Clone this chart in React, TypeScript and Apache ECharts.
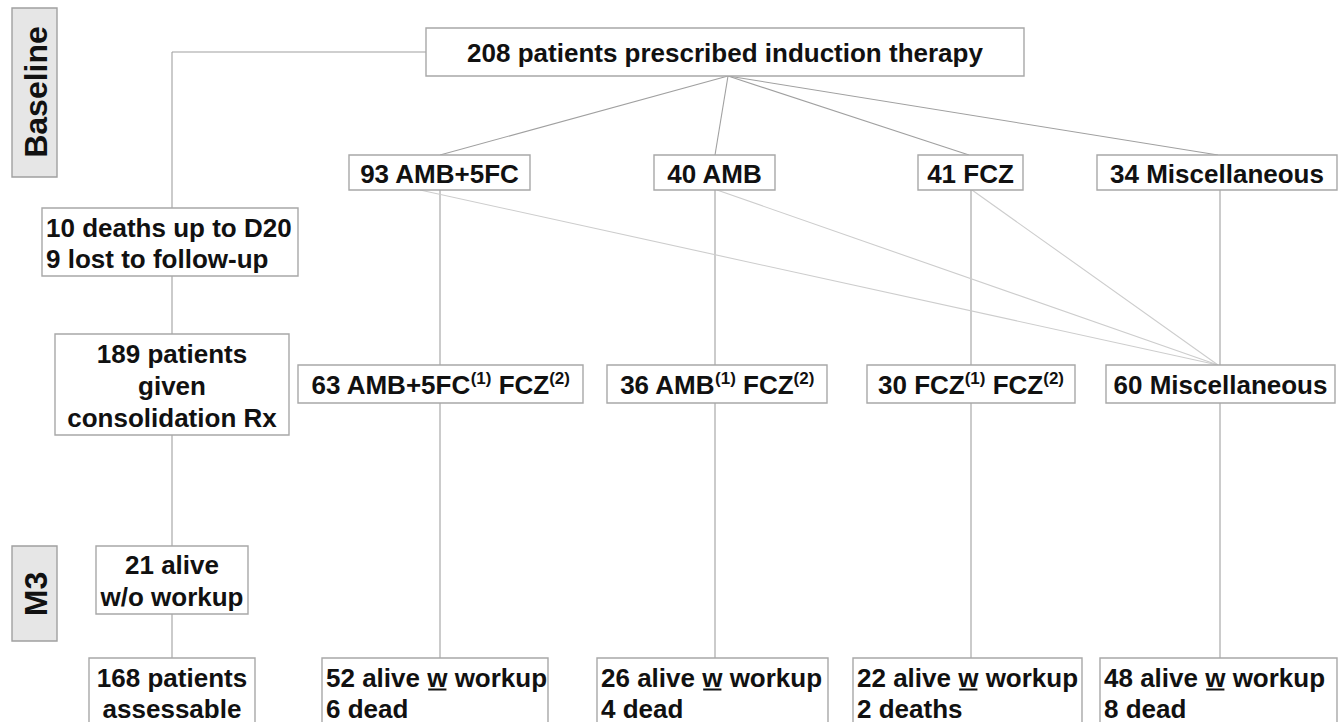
import React, { useEffect, useRef } from 'react';
import * as echarts from 'echarts';

// ---- data (labels of the flow diagram) ----
const stageLabels = ['Baseline', 'M3'];
const rootLabel = '208 patients prescribed induction therapy';
const inductionArms = ['93 AMB+5FC', '40 AMB', '41 FCZ', '34 Miscellaneous'];
const consolidationMain = ['63 AMB+5FC', '36 AMB', '30 FCZ', '60 Miscellaneous'];
const consolidationSecond = ['FCZ', 'FCZ', 'FCZ', ''];
const attritionLines = ['10 deaths up to D20', '9 lost to follow-up'];
const consolidationTotal = ['189 patients', 'given', 'consolidation Rx'];
const aliveNoWorkup = ['21 alive', 'w/o workup'];
const assessable = ['168 patients', 'assessable'];
const aliveWithWorkup = [52, 26, 22, 48];
const deathLabels = ['6 dead', '4 dead', '2 deaths', '8 dead'];

// ---- layout ----
const FAM = '"Liberation Sans", Arial, Helvetica, sans-serif';
const FONT = `bold 26px ${FAM}`;
const STAGE_FONT = `bold 32px ${FAM}`;
const SUP = `bold 17px ${FAM}`;
const TXT = '#111111';
const BOX = '#a8a8a8';
const LINE = '#a0a0a0';
const LIGHT = '#cdcdcd';

const stageBoxes = [
  { x: 12, y: 8, w: 45, h: 169, cy: 92 },
  { x: 12, y: 546, w: 45, h: 95, cy: 594 },
];
const rootBox = { x: 426, y: 28, w: 598, h: 48 };
const rootAnchor = { x: 728, y: 76 };
const l2Boxes = [
  { x: 349, w: 181 },
  { x: 654, w: 121 },
  { x: 918, w: 105 },
  { x: 1097, w: 240 },
];
const l2Y = 155, l2H = 35;
const l2Arrive = [440, 715, 969, 1218];
const l3Boxes = [
  { x: 298, w: 285 },
  { x: 607, w: 220 },
  { x: 867, w: 208 },
  { x: 1106, w: 229 },
];
const l3Y = 365, l3H = 38;
const colX = [440, 715, 971, 1220];
const diagStarts = [420, 717, 972];
const bottomBoxes = [
  { x: 322, w: 226 },
  { x: 597, w: 231 },
  { x: 853, w: 229 },
  { x: 1100, w: 237 },
];
const bottomY = 658, bottomH = 90;
const leftX = 172;
const attritionBox = { x: 42, y: 208, w: 256, h: 68 };
const consBox = { x: 55, y: 334, w: 234, h: 101 };
const aliveBox = { x: 96, y: 546, w: 152, h: 68 };
const assessBox = { x: 89, y: 658, w: 166, h: 90 };

function rect(x: number, y: number, w: number, h: number, fill = '#ffffff', stroke = BOX) {
  return {
    type: 'rect', silent: true,
    shape: { x, y, width: w, height: h },
    style: { fill, stroke, lineWidth: 1.4 },
  };
}
function line(x1: number, y1: number, x2: number, y2: number, stroke = LINE, lw = 1.1) {
  return {
    type: 'line', silent: true,
    shape: { x1, y1, x2, y2 },
    style: { stroke, lineWidth: lw },
  };
}
function text(t: string, x: number, y: number, align = 'center', lh = 31, vAlign = 'middle', font = FONT, extra: any = {}) {
  return {
    type: 'text', silent: true, x, y, z: 10, ...extra,
    style: {
      text: t, font, fill: TXT,
      align, textAlign: align, verticalAlign: vAlign, textVerticalAlign: vAlign,
      lineHeight: lh,
    },
  };
}

export default function App() {
  const ref = useRef<HTMLDivElement>(null);
  useEffect(() => {
    if (!ref.current) return;
    const chart = echarts.init(ref.current, undefined, { renderer: 'svg' });
    const els: any[] = [];

    // stage label boxes
    stageLabels.forEach((s, i) => {
      const b = stageBoxes[i];
      els.push(rect(b.x, b.y, b.w, b.h, '#e6e6e6', '#a0a0a0'));
      els.push(text(s, b.x + b.w / 2 + 1, b.cy, 'center', 36, 'middle', STAGE_FONT, { rotation: Math.PI / 2 }));
    });

    // left trunk
    els.push(line(leftX, 52, rootBox.x, 52));
    els.push(line(leftX, 52, leftX, attritionBox.y));
    els.push(line(leftX, attritionBox.y + attritionBox.h, leftX, consBox.y));
    els.push(line(leftX, consBox.y + consBox.h, leftX, aliveBox.y));
    els.push(line(leftX, aliveBox.y + aliveBox.h, leftX, assessBox.y));

    // root fan-out
    l2Arrive.forEach((x) => els.push(line(rootAnchor.x, rootAnchor.y, x, l2Y)));
    // verticals in columns
    colX.forEach((x) => {
      els.push(line(x, l2Y + l2H, x, l3Y));
      els.push(line(x, l3Y + l3H, x, bottomY));
    });
    // switches to miscellaneous
    diagStarts.forEach((x) => els.push(line(x, l2Y + l2H, l2Arrive[3], l3Y, LIGHT, 1.1)));

    // root box
    els.push(rect(rootBox.x, rootBox.y, rootBox.w, rootBox.h));
    els.push(text(rootLabel, rootBox.x + rootBox.w / 2, rootBox.y + rootBox.h / 2 + 1));

    // induction arms
    inductionArms.forEach((s, i) => {
      const b = l2Boxes[i];
      els.push(rect(b.x, l2Y, b.w, l2H));
      els.push(text(s, b.x + b.w / 2, l2Y + l2H / 2 + 1));
    });

    // consolidation arms (with superscripts)
    consolidationMain.forEach((s, i) => {
      const b = l3Boxes[i];
      els.push(rect(b.x, l3Y, b.w, l3H));
      const second = consolidationSecond[i];
      const rt = second
        ? `{n|${s}}{s|(1)}{n| ${second}}{s|(2)}`
        : `{n|${s}}`;
      els.push({
        type: 'text', silent: true, z: 10,
        x: b.x + b.w / 2, y: l3Y + l3H / 2 + 1,
        style: {
          text: rt, font: FONT, fill: TXT,
          align: 'center', textAlign: 'center', verticalAlign: 'middle', textVerticalAlign: 'middle',
          rich: {
            n: { font: FONT, fill: TXT, color: TXT, lineHeight: 30 },
            s: { font: SUP, fill: TXT, color: TXT, lineHeight: 17, verticalAlign: 'top' },
          },
        },
      });
    });

    // left column boxes
    els.push(rect(attritionBox.x, attritionBox.y, attritionBox.w, attritionBox.h));
    els.push(text(attritionLines.join('\n'), attritionBox.x + 4, attritionBox.y + attritionBox.h / 2 + 1, 'left', 31));
    els.push(rect(consBox.x, consBox.y, consBox.w, consBox.h));
    els.push(text(consolidationTotal.join('\n'), consBox.x + consBox.w / 2, consBox.y + consBox.h / 2 + 1, 'center', 32));
    els.push(rect(aliveBox.x, aliveBox.y, aliveBox.w, aliveBox.h));
    els.push(text(aliveNoWorkup.join('\n'), aliveBox.x + aliveBox.w / 2, aliveBox.y + aliveBox.h / 2 + 1, 'center', 32));
    els.push(rect(assessBox.x, assessBox.y, assessBox.w, assessBox.h));
    els.push(text(assessable.join('\n'), assessBox.x + assessBox.w / 2, 662, 'center', 31, 'top'));

    // bottom boxes
    const ctx = document.createElement('canvas').getContext('2d')!;
    ctx.font = FONT;
    aliveWithWorkup.forEach((n, i) => {
      const b = bottomBoxes[i];
      els.push(rect(b.x, bottomY, b.w, bottomH));
      const first = `${n} alive w workup`;
      els.push(text(first + '\n' + deathLabels[i], b.x + 4, 662, 'left', 31, 'top'));
      const pre = ctx.measureText(`${n} alive `).width;
      const ww = ctx.measureText('w').width;
      const ux = b.x + 4 + pre;
      els.push({
        type: 'line', silent: true, z: 11,
        shape: { x1: ux + 1, y1: 689.5, x2: ux + ww - 1, y2: 689.5 },
        style: { stroke: TXT, lineWidth: 2 },
      });
    });

    chart.setOption({
      animation: false,
      backgroundColor: '#ffffff',
      graphic: { elements: els },
    });
    return () => chart.dispose();
  }, []);
  return (
    <div
      ref={ref}
      style={{ position: 'absolute', left: 0, top: 0, width: 1343, height: 722, background: '#fff' }}
    />
  );
}
